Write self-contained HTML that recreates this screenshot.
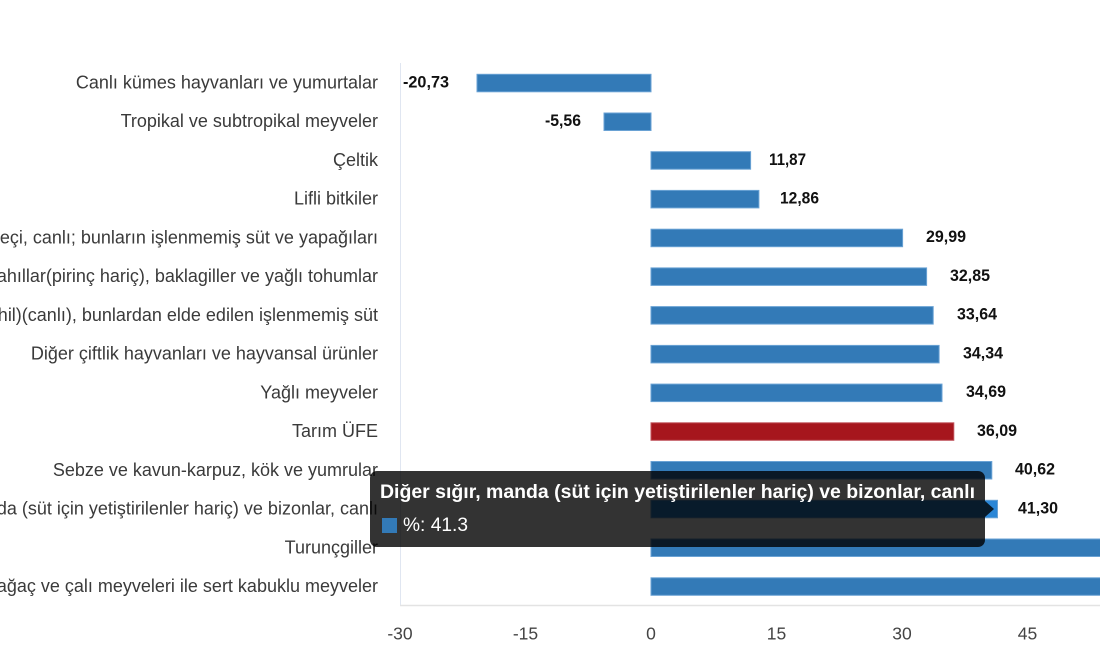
<!DOCTYPE html>
<html>
<head>
<meta charset="utf-8">
<style>
html,body{margin:0;padding:0;background:#fff;}
svg{display:block;}
.cat{font-family:"Liberation Sans","DejaVu Sans",sans-serif;font-size:18px;fill:#3a3a3a;}
.val{font-family:"Liberation Sans",Arial,sans-serif;font-size:17px;font-weight:bold;fill:#111;}
.tick{font-family:"Liberation Sans","DejaVu Sans",sans-serif;font-size:17.5px;fill:#444;}
.tt{font-family:"Liberation Sans",Arial,sans-serif;fill:#fff;font-size:19px;}
</style>
</head>
<body>
<svg width="1100" height="650" viewBox="0 0 1100 650" xmlns="http://www.w3.org/2000/svg">
  <rect x="0" y="0" width="1100" height="650" fill="#fff"/>

  <!-- axes -->
  <line x1="400.5" y1="63" x2="400.5" y2="606" stroke="#e0e6f1" stroke-width="1"/>
  <line x1="400" y1="605.5" x2="1100" y2="605.5" stroke="#e3e3e3" stroke-width="1.5"/>

  <!-- category labels -->
  <g class="cat" text-anchor="end">
    <text x="378" y="88.5">Canlı kümes hayvanları ve yumurtalar</text>
    <text x="378" y="127.2">Tropikal ve subtropikal meyveler</text>
    <text x="378" y="166">Çeltik</text>
    <text x="378" y="204.7">Lifli bitkiler</text>
    <text x="378" y="243.4">Koyun ve keçi, canlı; bunların işlenmemiş süt ve yapağıları</text>
    <text x="378" y="282.2">Tahıllar(pirinç hariç), baklagiller ve yağlı tohumlar</text>
    <text x="378" y="320.9">Süt için yetiştirilen sığırlar (damızlık dahil)(canlı), bunlardan elde edilen işlenmemiş süt</text>
    <text x="378" y="359.6">Diğer çiftlik hayvanları ve hayvansal ürünler</text>
    <text x="378" y="398.3">Yağlı meyveler</text>
    <text x="378" y="437.1">Tarım ÜFE</text>
    <text x="378" y="475.8">Sebze ve kavun-karpuz, kök ve yumrular</text>
    <text x="378" y="514.5">Diğer sığır, manda (süt için yetiştirilenler hariç) ve bizonlar, canlı</text>
    <text x="378" y="553.3">Turunçgiller</text>
    <text x="378" y="592">Diğer ağaç ve çalı meyveleri ile sert kabuklu meyveler</text>
  </g>

  <!-- bars -->
  <g stroke="#6aa2d4" stroke-width="1">
    <rect x="477" y="74.3" width="174" height="17.5" fill="#337ab7"/>
    <rect x="604" y="113" width="47" height="17.5" fill="#337ab7"/>
    <rect x="651" y="151.7" width="99.6" height="17.5" fill="#337ab7"/>
    <rect x="651" y="190.4" width="107.9" height="17.5" fill="#337ab7"/>
    <rect x="651" y="229.2" width="251.6" height="17.5" fill="#337ab7"/>
    <rect x="651" y="267.9" width="275.6" height="17.5" fill="#337ab7"/>
    <rect x="651" y="306.6" width="282.2" height="17.5" fill="#337ab7"/>
    <rect x="651" y="345.4" width="288.1" height="17.5" fill="#337ab7"/>
    <rect x="651" y="384.1" width="291" height="17.5" fill="#337ab7"/>
    <rect x="651" y="422.8" width="302.8" height="17.5" fill="#a6161d" stroke="#c0525a"/>
    <rect x="651" y="461.5" width="340.8" height="17.5" fill="#337ab7"/>
    <rect x="651" y="500.3" width="346.5" height="17.5" fill="#2a86d6"/>
    <rect x="651" y="539" width="460" height="17.5" fill="#337ab7"/>
    <rect x="651" y="577.8" width="460" height="17.5" fill="#337ab7"/>
  </g>

  <!-- value labels -->
  <g class="val">
    <text x="403" y="87.3" textLength="46" lengthAdjust="spacingAndGlyphs">-20,73</text>
    <text x="545" y="126" textLength="36" lengthAdjust="spacingAndGlyphs">-5,56</text>
    <text x="769" y="164.8" textLength="37" lengthAdjust="spacingAndGlyphs">11,87</text>
    <text x="780" y="203.5" textLength="39" lengthAdjust="spacingAndGlyphs">12,86</text>
    <text x="926" y="242.2" textLength="40" lengthAdjust="spacingAndGlyphs">29,99</text>
    <text x="950" y="281" textLength="40" lengthAdjust="spacingAndGlyphs">32,85</text>
    <text x="957" y="319.7" textLength="40" lengthAdjust="spacingAndGlyphs">33,64</text>
    <text x="963" y="358.4" textLength="40" lengthAdjust="spacingAndGlyphs">34,34</text>
    <text x="966" y="397.1" textLength="40" lengthAdjust="spacingAndGlyphs">34,69</text>
    <text x="977" y="435.9" textLength="40" lengthAdjust="spacingAndGlyphs">36,09</text>
    <text x="1015" y="474.6" textLength="40" lengthAdjust="spacingAndGlyphs">40,62</text>
    <text x="1018" y="513.3" textLength="40" lengthAdjust="spacingAndGlyphs">41,30</text>
  </g>

  <!-- x tick labels -->
  <g class="tick" text-anchor="middle">
    <text x="400" y="639.5">-30</text>
    <text x="525.5" y="639.5">-15</text>
    <text x="651" y="639.5">0</text>
    <text x="776.5" y="639.5">15</text>
    <text x="902" y="639.5">30</text>
    <text x="1027.5" y="639.5">45</text>
  </g>

  <!-- tooltip -->
  <g>
    <rect x="370" y="471" width="615" height="76" rx="7" ry="7" fill="rgba(0,0,0,0.8)"/>
    <polygon points="985,501 994,509 985,517" fill="rgba(0,0,0,0.8)"/>
    <text class="tt" x="380" y="498" font-weight="bold" textLength="595" lengthAdjust="spacingAndGlyphs">Diğer sığır, manda (süt için yetiştirilenler hariç) ve bizonlar, canlı</text>
    <rect x="382" y="518" width="15" height="15" fill="#337ab7"/>
    <text class="tt" x="403" y="531" textLength="65" lengthAdjust="spacingAndGlyphs">%: 41.3</text>
  </g>
</svg>
</body>
</html>
